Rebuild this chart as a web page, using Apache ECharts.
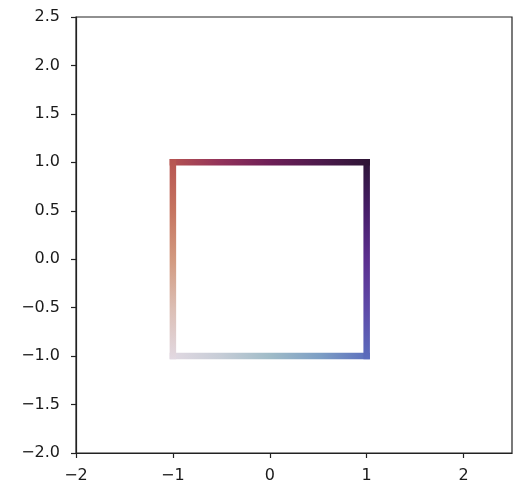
<!DOCTYPE html>
<html>
<head>
<meta charset="utf-8">
<script src="https://cdn.jsdelivr.net/npm/echarts@6/dist/echarts.min.js"></script>
<style>html,body{margin:0;padding:0;background:#fff;}#c{width:513px;height:487px;}</style>
</head>
<body>
<div id="c"></div>
<script>
// Path vertices (square traced counter-clockwise from bottom-left)
const pathX = [-1, 1, 1, -1, -1];
const pathY = [-1, -1, 1, 1, -1];
// Axis ranges / tick steps
const xRange = [-2, 2.5];
const yRange = [-2, 2.5];
const xStep = 1;
const yStep = 0.5;
// Colormap (twilight-like) stops per side: bottom, right, top, left
const sideColors = [
  ['#e2d9e2', '#c7cdd7', '#a0bcc8', '#7d9fc5', '#5b6dbd'],
  ['#5b6dbd', '#5e4aa9', '#5c2f90', '#461d68', '#2d1535'],
  ['#2d1535', '#4d1a4c', '#6e1f57', '#93335a', '#b65451'],
  ['#b65451', '#c5735f', '#d2997f', '#dcbfb5', '#e2d9e2']
];

const chart = echarts.init(document.getElementById('c'), null, {renderer: 'canvas'});
const fmtMinus = s => s.replace('-', '\u2212');
const series = [];
for (let i = 0; i < pathX.length - 1; i++) {
  const x0 = pathX[i], y0 = pathY[i], x1 = pathX[i + 1], y1 = pathY[i + 1];
  let gx = 0, gy = 0, gx2 = 0, gy2 = 0;
  if (x0 !== x1) { gx = x0 < x1 ? 0 : 1; gx2 = 1 - gx; }
  else { gy = y0 > y1 ? 0 : 1; gy2 = 1 - gy; }
  const cols = sideColors[i];
  series.push({
    type: 'line',
    data: [[x0, y0], [x1, y1]],
    showSymbol: false,
    silent: true,
    animation: false,
    clip: false,
    lineStyle: {
      width: 6.5,
      cap: 'square',
      color: new echarts.graphic.LinearGradient(gx, gy, gx2, gy2,
        cols.map((c, k) => ({offset: k / (cols.length - 1), color: c})))
    }
  });
}

const axisCommon = {
  axisLine: {show: true, onZero: false, lineStyle: {color: '#222', width: 1.2}},
  axisTick: {show: true, inside: false, length: 5, lineStyle: {color: '#222', width: 1.2}},
  splitLine: {show: false},
  axisLabel: {color: '#1a1a1a', fontFamily: 'DejaVu Sans', fontSize: 16, margin: 15, showMaxLabel: false}
};

chart.setOption({
  animation: false,
  backgroundColor: '#fff',
  grid: {left: 76, top: 17, right: 1, bottom: 34, show: true, borderColor: '#222', borderWidth: 1.2, containLabel: false},
  xAxis: Object.assign({}, axisCommon, {
    type: 'value', min: xRange[0], max: xRange[1], interval: xStep,
    axisLabel: Object.assign({}, axisCommon.axisLabel, {formatter: v => fmtMinus(String(v))})
  }),
  yAxis: Object.assign({}, axisCommon, {
    type: 'value', min: yRange[0], max: yRange[1], interval: yStep,
    axisLabel: Object.assign({}, axisCommon.axisLabel, {showMaxLabel: true, margin: 16, formatter: v => fmtMinus(v.toFixed(1))})
  }),
  series: series
});
</script>
</body>
</html>
